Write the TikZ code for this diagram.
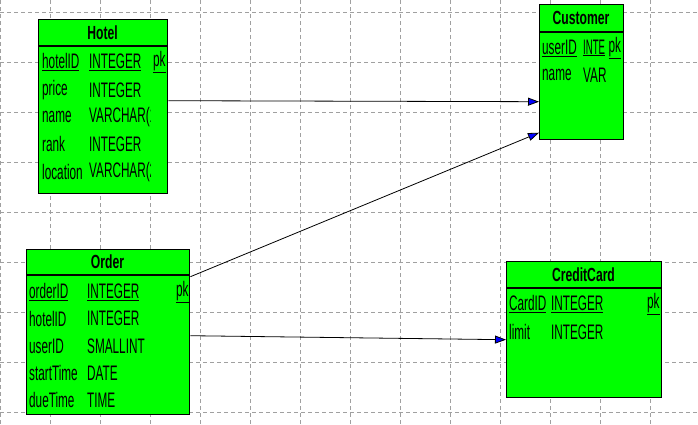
\documentclass[tikz,border=0pt]{standalone}
\usepackage{fontspec}
\setmainfont{Liberation Sans}[FakeStretch=0.56]
\newfontfamily\titlefont{Liberation Sans Bold}[FakeStretch=0.64]
\usetikzlibrary{arrows.meta}
\definecolor{boxgreen}{RGB}{0,255,0}
\definecolor{gridgray}{RGB}{160,160,160}
\definecolor{tipblue}{RGB}{0,0,255}
\tikzset{
  gridline/.style={draw=gridgray, line width=0.9pt, dash pattern=on 4pt off 3pt},
  table/.style={draw=black, fill=boxgreen, line width=1.4pt, inner sep=0pt, anchor=north west},
  headline/.style={draw=black, line width=1.2pt},
  ttl/.style={inner sep=0pt, font=\titlefont\fontsize{19}{19}\selectfont},
  fld/.style={inner sep=0pt, anchor=west, font=\fontsize{21}{21}\selectfont},
  fk/.style={draw=black, line width=0.8pt, -{Triangle[length=11pt,width=8pt,fill=tipblue]}}
}
\begin{document}
\begin{tikzpicture}[x=1pt,y=-1pt]
\useasboundingbox (0,0) rectangle (698,424);
\fill[white] (0,0) rectangle (698,424);
% grid
\foreach \gx in {0.8,50.5,100.5,150.5,200.5,250.5,300.5,350.5,400.5,450.5,500.5,550.5,600.5,650.5}
  \draw[gridline] (\gx,0) -- (\gx,424);
\foreach \gy in {12,62,112,162,212,262,312,362,412}
  \draw[gridline] (0,\gy) -- (698,\gy);

% Hotel
\node[table, minimum width=129pt, minimum height=174pt] (hotel) at (38,19) {};
\draw[headline] (38,46) -- (167,46);
\node[ttl] (hotelT) at (102.5,32.5) {Hotel};
\node[fld] (h1n) at (42,62) {\underline{hotelID}};
\node[fld] (h1t) at (89,62) {\underline{INTEGER}};
\node[fld] (h1p) at (153,62) {\underline{pk}};
\node[fld] (h2n) at (42,90) {price};
\node[fld] (h2t) at (89,90) {INTEGER};
\node[fld] (h3n) at (42,117) {name};
\node[fld] (h4n) at (42,144) {rank};
\node[fld] (h4t) at (89,144) {INTEGER};
\node[fld] (h5n) at (42,172) {location};
\begin{scope}
  \clip (88,100) rectangle (150,190);
  \node[fld] (h3t) at (89,117) {VARCHAR(1};
  \node[fld] (h5t) at (89,172) {VARCHAR(2};
\end{scope}

% Customer
\node[table, minimum width=84pt, minimum height=135pt] (customer) at (539,4) {};
\draw[headline] (539,32) -- (623,32);
\node[ttl] (customerT) at (581,18) {Customer};
\node[fld] (c1n) at (542,48) {\underline{userID}};
\node[fld] (c1t) at (583,48) {\underline{\scalebox{0.82}[1]{INTE}}};
\node[fld] (c2t) at (583,75) {VAR};
\node[fld] (c1p) at (608.5,48) {\underline{pk}};
\node[fld] (c2n) at (542,75) {name};

% Order
\node[table, minimum width=163pt, minimum height=165pt] (order) at (26,249) {};
\draw[headline] (26,275) -- (189,275);
\node[ttl] (orderT) at (107.5,262) {Order};
\node[fld] (o1n) at (29,292) {\underline{orderID}};
\node[fld] (o1t) at (87,292) {\underline{INTEGER}};
\node[fld] (o1p) at (176,292) {\underline{pk}};
\node[fld] (o2n) at (29,318.5) {hotelID};
\node[fld] (o2t) at (87,318.5) {INTEGER};
\node[fld] (o3n) at (29,346) {userID};
\node[fld] (o3t) at (87,346) {SMALLINT};
\node[fld] (o4n) at (29,373) {startTime};
\node[fld] (o4t) at (87,373) {DATE};
\node[fld] (o5n) at (29,400) {dueTime};
\node[fld] (o5t) at (87,400) {TIME};

% CreditCard
\node[table, minimum width=155pt, minimum height=136pt] (card) at (506,261) {};
\draw[headline] (506,288) -- (661,288);
\node[ttl] (cardT) at (583.5,275) {CreditCard};
\node[fld] (k1n) at (509,304) {\underline{CardID}};
\node[fld] (k1t) at (551,304) {\underline{INTEGER}};
\node[fld] (k1p) at (647,304) {\underline{pk}};
\node[fld] (k2n) at (509,332) {limit};
\node[fld] (k2t) at (551,332) {INTEGER};

% connectors
\draw[fk] ([yshift=6pt]hotel.east) -- ([yshift=-29.5pt]customer.west);
\draw[fk] ([yshift=55.5pt]order.east) -- ([yshift=-60.5pt]customer.west);
\draw[fk] ([yshift=-3.5pt]order.east) -- ([yshift=-10pt]card.west);
\end{tikzpicture}
\end{document}
